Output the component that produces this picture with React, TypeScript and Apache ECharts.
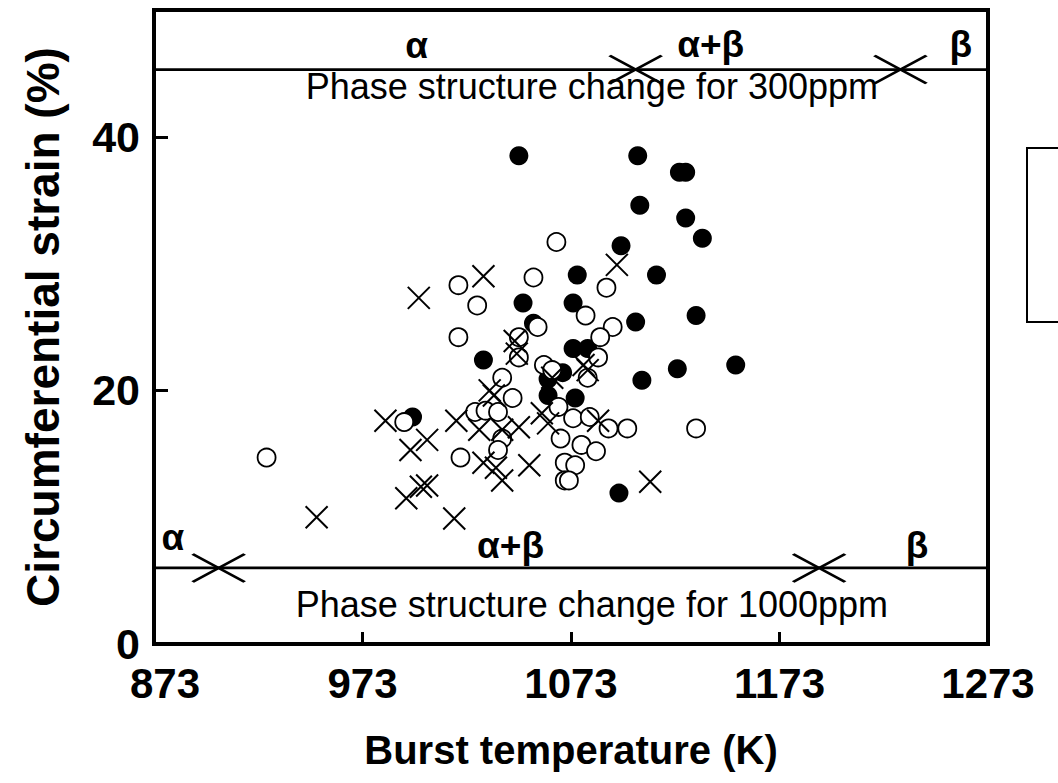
import React, { useEffect, useRef } from "react";
import * as echarts from "echarts";

// Burst temperature (K), circumferential strain (%)
const filledPoints: [number, number][] = [
  [1048, 38.5], [1105, 38.5], [1125, 37.2], [1128, 37.2], [1106, 34.6],
  [1128, 33.6], [1136, 32.0], [1097, 31.4], [1076, 29.1], [1114, 29.1],
  [1050, 26.9], [1074, 26.9], [1055, 25.3], [1104, 25.4], [1133, 25.9],
  [1031, 22.4], [1074, 23.3], [1081, 23.3], [1069, 21.4], [1062, 20.9],
  [1124, 21.7], [1152, 22.0], [1107, 20.8], [1062, 19.6], [1075, 19.4],
  [997, 17.9], [1096, 11.9],
];

const openPoints: [number, number][] = [
  [927, 14.7], [993, 17.5], [1019, 28.3], [1028, 26.7], [1019, 24.2],
  [1055, 28.9], [1066, 31.7], [1090, 28.1], [1080, 25.9], [1093, 25.0],
  [1087, 24.2], [1057, 25.0], [1048, 24.2], [1048, 22.6], [1086, 22.6],
  [1081, 21.0], [1060, 22.0], [1064, 21.6], [1040, 21.0], [1045, 19.4],
  [1027, 18.3], [1032, 18.4], [1038, 18.3], [1020, 14.7], [1040, 16.2],
  [1038, 15.3], [1067, 18.7], [1074, 17.8], [1082, 17.9], [1091, 17.0],
  [1100, 17.0], [1133, 17.0], [1068, 16.2], [1078, 15.7], [1085, 15.2],
  [1070, 14.3], [1075, 14.1], [1070, 12.9], [1072, 12.9],
];

const crossPoints: [number, number][] = [
  [951, 10.0], [1017, 9.9], [984, 17.6], [996, 15.3], [1004, 16.1],
  [994, 11.5], [1001, 12.4], [1004, 12.5], [1000, 27.3], [1031, 29.0],
  [1095, 29.9], [1018, 17.6], [1029, 16.9], [1036, 19.6], [1040, 16.9],
  [1048, 17.1], [1031, 14.3], [1037, 13.9], [1040, 12.9], [1053, 14.1],
  [1059, 18.2], [1062, 17.4], [1086, 17.6], [1111, 12.8], [1046, 23.9],
  [1047, 22.9], [1034, 20.0], [1079, 22.0], [1081, 21.6], [1064, 21.0],
];

// phase structure change lines
const line300 = 45.3;
const line1000 = 6.0;
const boundaries300 = [1104, 1231];
const boundaries1000 = [904, 1192];
const phaseNames = ["α", "α+β", "β"];
const phaseX300 = [999, 1140, 1260];
const phaseY300 = [47.2, 47.3, 47.3];
const phaseX1000 = [882, 1044, 1239];
const phaseY1000 = [8.4, 7.8, 7.8];
const caption300 = "Phase structure change for 300ppm";
const caption1000 = "Phase structure change for 1000ppm";
const captionX = 1083;
const captionY300 = 44.0;
const captionY1000 = 3.1;

const xTicks = [873, 973, 1073, 1173, 1273];
const yTicks = [0, 20, 40];

const FONT = "Liberation Sans, Arial, sans-serif";

export default function App() {
  const ref = useRef<HTMLDivElement>(null);
  useEffect(() => {
    if (!ref.current) return;
    const chart = echarts.init(ref.current, null, { renderer: "svg" });
    const smallCross = "path://M0,0L10,10M10,0L0,10";
    const bigCross = "path://M0,0L52,28M52,0L0,28";
    const textLabel = (name: string, size: number, weight: string) => ({
      show: true,
      position: "inside",
      formatter: name,
      color: "#000",
      opacity: 1,
      fontFamily: FONT,
      fontSize: size,
      fontWeight: weight,
      lineHeight: size,
    });
    const textSeries = (pts: { value: [number, number]; name: string }[], size: number, weight: string) => ({
      type: "scatter",
      symbolSize: 1,
      itemStyle: { color: "rgba(0,0,0,0)", opacity: 1 },
      z: 10,
      data: pts.map((p) => ({
        value: p.value,
        label: textLabel(p.name, size, weight),
      })),
    });

    chart.setOption({
      animation: false,
      backgroundColor: "#fff",
      grid: {
        left: 154,
        right: 70,
        top: 10,
        bottom: 139,
        show: true,
        borderColor: "#000",
        borderWidth: 4,
        backgroundColor: "transparent",
      },
      xAxis: {
        type: "value",
        min: xTicks[0],
        max: xTicks[xTicks.length - 1],
        interval: 100,
        name: "Burst temperature (K)",
        nameLocation: "middle",
        nameGap: 86,
        nameTextStyle: { fontFamily: FONT, fontSize: 40, fontWeight: "bold", color: "#000" },
        axisLine: { show: true, lineStyle: { color: "#000", width: 4 } },
        axisTick: { show: true, inside: true, length: 12, lineStyle: { color: "#000", width: 3 } },
        splitLine: { show: false },
        axisLabel: {
          fontFamily: FONT,
          fontSize: 42,
          fontWeight: "bold",
          color: "#000",
          margin: 18,
          formatter: (v: number) => (v === xTicks[0] ? "{first|" + v + "}" : String(v)),
          rich: {
            first: {
              fontFamily: FONT,
              fontSize: 42,
              fontWeight: "bold",
              color: "#000",
              padding: [0, 0, 0, 22],
            },
          },
        },
      },
      yAxis: {
        type: "value",
        min: 0,
        max: 50,
        interval: 20,
        name: "Circumferential strain (%)",
        nameLocation: "middle",
        nameRotate: 90,
        nameGap: 88,
        nameTextStyle: { fontFamily: FONT, fontSize: 46, fontWeight: "bold", color: "#000" },
        axisLine: { show: true, lineStyle: { color: "#000", width: 4 } },
        axisTick: { show: true, inside: true, length: 14, lineStyle: { color: "#000", width: 3 } },
        splitLine: { show: false },
        axisLabel: {
          fontFamily: FONT,
          fontSize: 43,
          fontWeight: "bold",
          color: "#000",
          margin: 14,
          formatter: (v: number) => (yTicks.includes(v) ? String(v) : ""),
        },
      },
      series: [
        {
          type: "scatter",
          symbol: "circle",
          symbolSize: 19,
          itemStyle: { color: "#000", opacity: 1 },
          data: filledPoints,
          z: 3,
        },
        {
          type: "scatter",
          symbol: "circle",
          symbolSize: 18,
          itemStyle: { color: "#fff", borderColor: "#000", borderWidth: 1.8, opacity: 1 },
          data: openPoints,
          z: 4,
        },
        {
          type: "scatter",
          symbol: smallCross,
          symbolSize: 22,
          itemStyle: { color: "none", borderColor: "#000", borderWidth: 2, opacity: 1 },
          data: crossPoints,
          z: 5,
        },
        {
          type: "line",
          symbol: "none",
          lineStyle: { color: "#000", width: 2.8 },
          data: [[xTicks[0], line300], [xTicks[xTicks.length - 1], line300]],
          z: 6,
        },
        {
          type: "line",
          symbol: "none",
          lineStyle: { color: "#000", width: 2.8 },
          data: [[xTicks[0], line1000], [xTicks[xTicks.length - 1], line1000]],
          z: 6,
        },
        {
          type: "scatter",
          symbol: bigCross,
          symbolSize: [52, 28],
          itemStyle: { color: "none", borderColor: "#000", borderWidth: 2.8, opacity: 1 },
          data: [
            ...boundaries300.map((x) => [x, line300]),
            ...boundaries1000.map((x) => [x, line1000]),
          ],
          z: 7,
        },
        textSeries(
          phaseNames.map((n, i) => ({ value: [phaseX300[i], phaseY300[i]] as [number, number], name: n })),
          37,
          "bold"
        ),
        textSeries(
          phaseNames.map((n, i) => ({ value: [phaseX1000[i], phaseY1000[i]] as [number, number], name: n })),
          37,
          "bold"
        ),
        textSeries(
          [
            { value: [captionX, captionY300], name: caption300 },
            { value: [captionX, captionY1000], name: caption1000 },
          ],
          36,
          "normal"
        ),
      ],
      graphic: [
        {
          type: "rect",
          shape: { x: 1027, y: 148, width: 60, height: 174 },
          style: { fill: "none", stroke: "#000", lineWidth: 2 },
        },
      ],
    });
    return () => chart.dispose();
  }, []);
  return (
    <div
      ref={ref}
      style={{ position: "fixed", left: 0, top: 0, width: 1058, height: 783, background: "#fff" }}
    />
  );
}
